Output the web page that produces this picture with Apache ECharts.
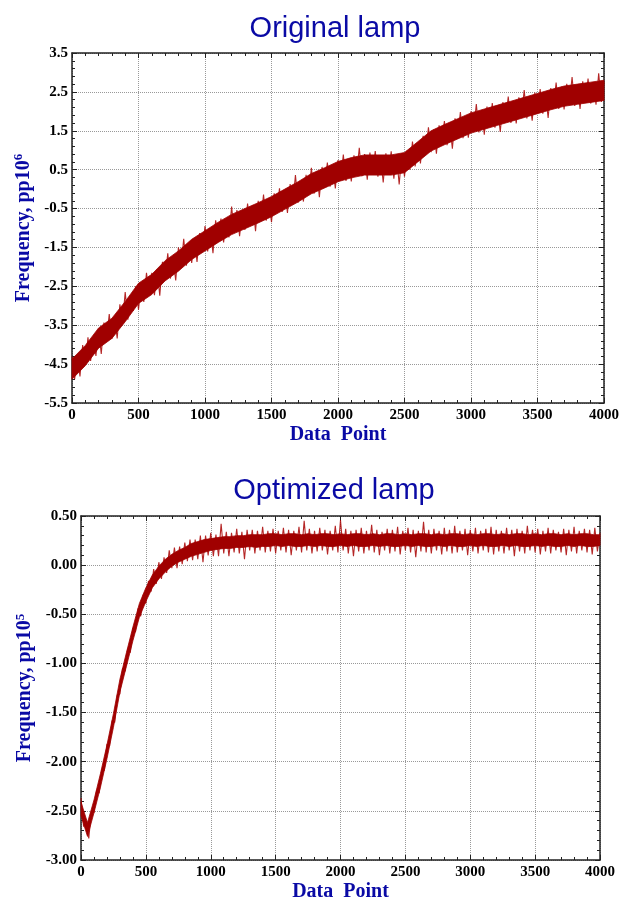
<!DOCTYPE html>
<html>
<head>
<meta charset="utf-8">
<script src="https://cdn.jsdelivr.net/npm/echarts@6/dist/echarts.min.js"></script>
<style>
html,body{margin:0;padding:0;background:#fff;}
#c{width:632px;height:903px;}
</style>
</head>
<body>
<div id="c"></div>
<script>
// ---- data ----
const SAMPLE_STEP = 20;          // noisy trace: one sample every 20 data points
const TOP_BAND_STEP = 100;       // dense core of the trace, top panel
const BOTTOM_BAND_STEP = 50;     // dense core of the trace, bottom panel
const xTicks = { min: 0, max: 4000, interval: 500 };
const topTitle = 'Original lamp';
const bottomTitle = 'Optimized lamp';
const topYTicks = { min: -5.5, max: 3.5, interval: 1 };
const bottomYTicks = { min: -3, max: 0.5, interval: 0.5 };

const originalLamp = [
 -4.30,-4.89,-4.28,-4.82,-4.01,-4.50,-3.81,-4.42,-3.83,-4.29,
 -3.60,-4.24,-3.43,-3.87,-3.21,-3.85,-3.32,-3.84,-2.96,-3.43,
 -2.65,-3.36,-2.77,-3.13,-2.49,-3.10,-2.45,-2.90,-2.15,-2.70,
 -2.15,-2.73,-2.06,-2.74,-1.87,-2.30,-1.65,-2.30,-1.80,-2.35,
 -1.50,-1.99,-1.28,-1.97,-1.41,-1.90,-1.26,-1.87,-1.13,-1.59,
 -0.95,-1.60,-1.05,-1.65,-0.80,-1.25,-0.76,-1.37,-0.78,-1.24,
 -0.45,-1.12,-0.54,-1.21,-0.58,-1.05,-0.37,-0.89,-0.41,-1.08,
 -0.30,-0.82,-0.14,-0.81,-0.33,-0.85,-0.11,-0.57,0.02,-0.59,
 -0.05,-0.61,0.13,-0.38,0.36,-0.35,0.19,-0.32,0.37,-0.09,
 0.55,-0.12,0.46,-0.21,0.57,0.10,0.68,0.06,0.59,0.02,
 0.75,0.22,0.89,0.21,0.73,0.20,0.87,0.39,1.06,0.33,
 0.90,0.24,0.94,0.38,0.98,0.32,0.82,0.17,0.92,0.42,
 0.97,0.27,0.87,0.12,0.92,0.32,0.99,0.50,1.22,0.58,
 1.15,0.66,1.37,0.93,1.59,0.95,1.53,0.91,1.64,1.17,
 1.75,1.13,1.66,1.04,1.82,1.30,1.98,1.31,1.84,1.32,
 2.00,1.52,2.19,1.46,2.03,1.40,2.12,1.59,2.21,1.58,
 2.10,1.47,2.24,1.76,2.38,1.70,2.27,1.69,2.36,1.88,
 2.55,1.82,2.34,1.76,2.48,1.95,2.57,1.94,2.46,1.83,
 2.60,2.12,2.74,2.06,2.63,2.05,2.71,2.22,2.88,2.14,
 2.65,2.06,2.77,2.23,2.84,2.20,2.71,2.17,2.98,2.24,
 2.75
];
const originalBandLow = [
 -4.89,-4.54,-4.09,-3.84,-3.41,-2.94,-2.71,-2.36,-2.11,-1.81,
 -1.59,-1.37,-1.17,-1.02,-0.87,-0.71,-0.52,-0.33,-0.12,0.03,
 0.19,0.29,0.36,0.36,0.36,0.42,0.70,0.98,1.14,1.29,
 1.44,1.54,1.64,1.74,1.84,1.94,2.04,2.13,2.18,2.23,
 2.28
];
const originalBandHigh = [
 -4.37,-4.02,-3.57,-3.32,-2.89,-2.42,-2.19,-1.84,-1.59,-1.29,
 -1.07,-0.85,-0.65,-0.50,-0.35,-0.19,0.00,0.19,0.40,0.55,
 0.71,0.81,0.88,0.88,0.88,0.94,1.22,1.50,1.66,1.81,
 1.96,2.06,2.16,2.26,2.36,2.46,2.56,2.65,2.70,2.75,
 2.80
];

const optimizedLamp = [
 -2.37,-2.66,-2.61,-2.78,-2.50,-2.52,-2.29,-2.32,-2.08,-2.09,
 -1.82,-1.84,-1.58,-1.60,-1.32,-1.31,-1.05,-1.08,-0.85,-0.89,
 -0.64,-0.68,-0.44,-0.52,-0.30,-0.39,-0.16,-0.27,-0.04,-0.19,
 0.03,-0.14,0.08,-0.08,0.15,-0.03,0.18,-0.03,0.19,0.01,
 0.23,0.04,0.26,0.05,0.26,0.06,0.30,0.03,0.30,0.10,
 0.33,0.09,0.31,0.09,0.42,0.12,0.34,0.09,0.33,0.13,
 0.37,0.12,0.34,0.06,0.36,0.15,0.36,0.12,0.35,0.15,
 0.39,0.13,0.35,0.14,0.37,0.12,0.35,0.15,0.38,0.13,
 0.36,0.10,0.35,0.15,0.39,0.13,0.45,0.15,0.37,0.12,
 0.35,0.14,0.38,0.15,0.36,0.11,0.35,0.15,0.40,0.13,
 0.46,0.15,0.37,0.12,0.35,0.09,0.36,0.14,0.38,0.12,
 0.35,0.15,0.41,0.13,0.36,0.10,0.34,0.15,0.37,0.12,
 0.36,0.14,0.39,0.11,0.35,0.15,0.38,0.13,0.36,0.08,
 0.35,0.14,0.44,0.13,0.36,0.12,0.37,0.15,0.35,0.11,
 0.38,0.14,0.36,0.12,0.40,0.13,0.35,0.15,0.37,0.10,
 0.36,0.14,0.38,0.12,0.35,0.15,0.37,0.13,0.39,0.11,
 0.36,0.14,0.35,0.12,0.38,0.15,0.36,0.09,0.37,0.14,
 0.35,0.12,0.40,0.15,0.36,0.13,0.37,0.11,0.35,0.14,
 0.38,0.12,0.36,0.15,0.34,0.13,0.37,0.10,0.36,0.14,
 0.39,0.12,0.35,0.15,0.37,0.13,0.36,0.11,0.38,0.14,
 0.33
];
const optimizedBandLow = [
 -2.55,-2.76,-2.52,-2.26,-1.97,-1.65,-1.29,-1.03,-0.77,-0.53,
 -0.37,-0.23,-0.14,-0.07,-0.01,0.03,0.06,0.09,0.11,0.13,
 0.15,0.16,0.17,0.17,0.18,0.18,0.19,0.18,0.19,0.19,
 0.20,0.19,0.20,0.19,0.19,0.20,0.19,0.20,0.19,0.19,
 0.20,0.19,0.20,0.19,0.19,0.20,0.19,0.20,0.19,0.19,
 0.20,0.19,0.20,0.19,0.19,0.20,0.19,0.20,0.19,0.19,
 0.20,0.19,0.20,0.19,0.19,0.20,0.19,0.20,0.19,0.19,
 0.20,0.19,0.20,0.19,0.19,0.20,0.19,0.20,0.19,0.19,
 0.20
];
const optimizedBandHigh = [
 -2.41,-2.62,-2.39,-2.12,-1.83,-1.51,-1.16,-0.89,-0.63,-0.39,
 -0.23,-0.10,-0.01,0.06,0.11,0.15,0.18,0.22,0.24,0.26,
 0.27,0.28,0.29,0.29,0.30,0.30,0.31,0.31,0.31,0.32,
 0.32,0.31,0.32,0.32,0.31,0.32,0.31,0.32,0.32,0.31,
 0.32,0.31,0.32,0.32,0.31,0.32,0.31,0.32,0.32,0.31,
 0.32,0.31,0.32,0.32,0.31,0.32,0.31,0.32,0.32,0.31,
 0.32,0.31,0.32,0.32,0.31,0.32,0.31,0.32,0.32,0.31,
 0.32,0.31,0.32,0.32,0.31,0.32,0.31,0.32,0.32,0.31,
 0.31
];

// ---- styling ----
const BLUE = '#0a0aa5';
const RED = '#a00000';
const SPIKE = 'rgba(168,0,0,0.85)';
const AXIS = '#222';
const SERIF = '"Liberation Serif","Times New Roman",serif';
const SANS = '"Liberation Sans",Arial,sans-serif';

const labelStyle = { fontFamily: SERIF, fontWeight: 'bold', fontSize: 15, color: '#000' };
const nameStyle = {
  fontFamily: SERIF, fontWeight: 'bold', fontSize: 20, color: BLUE,
  rich: { s: { fontFamily: SERIF, fontWeight: 'bold', fontSize: 13, color: BLUE, verticalAlign: 'top', padding: [0, 0, 9, 0] } }
};

function tickCfg() {
  return {
    axisLine: { show: true, onZero: false, lineStyle: { color: AXIS, width: 1.5 } },
    axisTick: { show: true, inside: true, length: 5, lineStyle: { color: AXIS, width: 1 } },
    minorTick: { show: true, splitNumber: 5, length: 3, lineStyle: { color: AXIS, width: 1 } }
  };
}
function xMain(grid) {
  return Object.assign({
    type: 'value', gridIndex: grid, position: 'bottom',
    min: xTicks.min, max: xTicks.max, interval: xTicks.interval,
    name: 'Data  Point', nameLocation: 'middle', nameGap: 22, nameTextStyle: nameStyle,
    axisLabel: Object.assign({ margin: 5, formatter: v => String(v) }, labelStyle),
    splitLine: { show: true, lineStyle: { type: 'dotted', color: '#999', width: 1 } }
  }, tickCfg());
}
function xMirror(grid) {
  return Object.assign({
    type: 'value', gridIndex: grid, position: 'top',
    min: xTicks.min, max: xTicks.max, interval: xTicks.interval,
    axisLabel: { show: false }, splitLine: { show: false }
  }, tickCfg());
}
function yMain(grid, t, digits, name, gap) {
  return Object.assign({
    type: 'value', gridIndex: grid, position: 'left',
    min: t.min, max: t.max, interval: t.interval,
    name: name, nameLocation: 'middle', nameGap: gap, nameTextStyle: nameStyle,
    axisLabel: Object.assign({ margin: 4, formatter: v => v.toFixed(digits) }, labelStyle),
    splitLine: { show: true, lineStyle: { type: 'dotted', color: '#999', width: 1 } }
  }, tickCfg());
}
function yMirror(grid, t) {
  return Object.assign({
    type: 'value', gridIndex: grid, position: 'right',
    min: t.min, max: t.max, interval: t.interval,
    axisLabel: { show: false }, splitLine: { show: false }
  }, tickCfg());
}
function pairs(arr, step) { return arr.map((v, i) => [i * step, v]); }

// The noisy trace as a line, and its dense core as a polygon drawn through the axes' coord().
function traceSeries(xi, yi, values, low, high, bandStep) {
  return [
    { type: 'line', xAxisIndex: xi, yAxisIndex: yi, data: pairs(values, SAMPLE_STEP), z: 2,
      showSymbol: false, symbol: 'none', lineStyle: { color: SPIKE, width: 1.1 } },
    { type: 'custom', xAxisIndex: xi, yAxisIndex: yi, z: 3, silent: true,
      data: [[0, low[0]]],
      renderItem: function (params, api) {
        const pts = [];
        for (let i = 0; i < high.length; i++) pts.push(api.coord([i * bandStep, high[i]]));
        for (let i = low.length - 1; i >= 0; i--) pts.push(api.coord([i * bandStep, low[i]]));
        return { type: 'polygon', shape: { points: pts }, style: { fill: RED, stroke: RED, lineWidth: 0.8 } };
      }
    }
  ];
}

const chart = echarts.init(document.getElementById('c'), null, { renderer: 'canvas' });
chart.setOption({
  animation: false,
  backgroundColor: '#fff',
  title: [
    { text: topTitle, left: 330, top: 9, textAlign: 'center',
      textStyle: { fontFamily: SANS, fontWeight: 'normal', fontSize: 29, color: BLUE } },
    { text: bottomTitle, left: 329, top: 471, textAlign: 'center',
      textStyle: { fontFamily: SANS, fontWeight: 'normal', fontSize: 29, color: BLUE } }
  ],
  grid: [
    { left: 72, top: 53, width: 532, height: 350, containLabel: false },
    { left: 81, top: 516, width: 519, height: 349, containLabel: false }
  ],
  xAxis: [xMain(0), xMirror(0), xMain(1), xMirror(1)],
  yAxis: [
    yMain(0, topYTicks, 1, 'Frequency, pp10{s|6}', 32),
    yMirror(0, topYTicks),
    yMain(1, bottomYTicks, 2, 'Frequency, pp10{s|5}', 41),
    yMirror(1, bottomYTicks)
  ],
  series: [].concat(
    traceSeries(0, 0, originalLamp, originalBandLow, originalBandHigh, TOP_BAND_STEP),
    traceSeries(2, 2, optimizedLamp, optimizedBandLow, optimizedBandHigh, BOTTOM_BAND_STEP)
  )
});
</script>
</body>
</html>
